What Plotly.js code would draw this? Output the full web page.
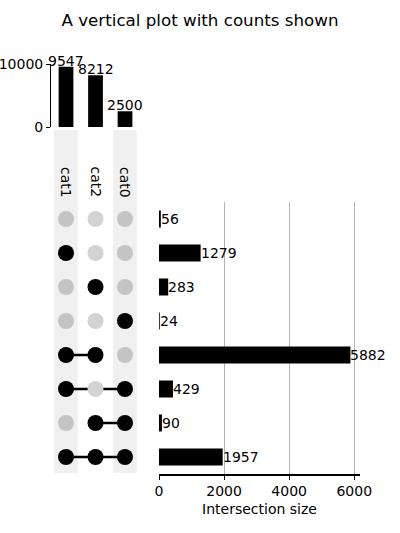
<!DOCTYPE html>
<html>
<head>
<meta charset="utf-8">
<script src="https://cdn.plot.ly/plotly-3.0.1.min.js"></script>
<style>
  html, body { margin: 0; padding: 0; background: #fff; }
  #upset { width: 400px; height: 533px; }
</style>
</head>
<body>
<div id="upset"></div>
<script>
// category totals (top bars)
const categories = ['cat1', 'cat2', 'cat0'];
const totals = [9547, 8212, 2500];

// intersections, top row first
const memberships = [
    [],
    ['cat1'],
    ['cat2'],
    ['cat0'],
    ['cat1', 'cat2'],
    ['cat1', 'cat0'],
    ['cat2', 'cat0'],
    ['cat1', 'cat2', 'cat0']
];
const counts = [56, 1279, 283, 24, 5882, 429, 90, 1957];

const font = "DejaVu Sans, sans-serif";
const H = 533, W = 400;
const py = px => 1 - px / H;   // pixel row -> paper y
const px = p => p / W;         // pixel col -> paper x

const rows = counts.map((c, i) => i);
const colIdx = categories.map((c, i) => i);

// totals bars
const totalsTrace = {
    type: 'bar',
    x: colIdx,
    y: totals,
    xaxis: 'x', yaxis: 'y',
    width: 0.5,
    marker: {color: 'black'},
    hoverinfo: 'skip'
};

// connecting lines in the matrix
const lx = [], ly = [];
memberships.forEach((m, r) => {
    if (m.length < 2) return;
    const idx = m.map(c => categories.indexOf(c));
    lx.push(Math.min(...idx), Math.max(...idx), null);
    ly.push(r, r, null);
});
const linkTrace = {
    type: 'scatter', mode: 'lines',
    x: lx, y: ly,
    xaxis: 'x', yaxis: 'y2',
    line: {color: 'black', width: 2.5},
    hoverinfo: 'skip'
};

// dots
const dx = [], dy = [], dc = [];
memberships.forEach((m, r) => {
    categories.forEach((c, i) => {
        dx.push(i);
        dy.push(r);
        if (m.includes(c)) dc.push('black');
        else dc.push(i % 2 === 0 ? '#c4c4c4' : '#d3d3d3');
    });
});
const dotTrace = {
    type: 'scatter', mode: 'markers',
    x: dx, y: dy,
    xaxis: 'x', yaxis: 'y2',
    marker: {size: 16, color: dc, line: {width: 0}},
    hoverinfo: 'skip'
};

// intersection size bars
const sizeTrace = {
    type: 'bar',
    orientation: 'h',
    x: counts,
    y: rows,
    xaxis: 'x2', yaxis: 'y2',
    width: 0.5,
    marker: {color: 'black'},
    hoverinfo: 'skip'
};

// shading behind alternate columns
const shapes = colIdx.filter(i => i % 2 === 0).map(i => ({
    type: 'rect', layer: 'below',
    xref: 'x', yref: 'paper',
    x0: i - 0.4, x1: i + 0.4,
    y0: py(473), y1: py(130),
    fillcolor: '#f0f0f0', line: {width: 0}
}));

const txt = {family: font, size: 14, color: 'black'};

// category labels, rotated
const annotations = categories.map((c, i) => ({
    xref: 'x', yref: 'paper',
    x: i, y: py(182),
    text: c, textangle: 90,
    showarrow: false,
    font: txt
}));
// count labels
totals.forEach((v, i) => annotations.push({
    xref: 'x', yref: 'y', x: i, y: v,
    text: String(v), showarrow: false,
    xanchor: 'center', yanchor: 'bottom', yshift: -4,
    font: txt
}));
counts.forEach((v, r) => annotations.push({
    xref: 'x2', yref: 'y2', x: v, y: r,
    text: String(v), showarrow: false,
    xanchor: 'left', yanchor: 'middle', xshift: -2,
    font: txt
}));

const layout = {
    width: W, height: H,
    margin: {l: 0, r: 0, t: 0, b: 0},
    paper_bgcolor: 'white',
    plot_bgcolor: 'rgba(0,0,0,0)',
    showlegend: false,
    font: txt,
    title: {
        text: 'A vertical plot with counts shown',
        font: {family: font, size: 16.7, color: 'black'},
        x: 0.5, xanchor: 'center',
        y: py(20), yanchor: 'middle'
    },
    xaxis: {
        domain: [px(51.25), px(139.75)],
        range: [-0.5, 2.5],
        visible: false,
        fixedrange: true
    },
    yaxis: {
        domain: [py(127), py(64)],
        range: [0, 10000],
        anchor: 'free', position: px(50),
        tickvals: [0, 10000],
        ticktext: ['0', '10000'],
        ticks: 'outside', ticklen: 4, tickcolor: 'black',
        showline: true, linecolor: 'black', linewidth: 1,
        showgrid: true, gridcolor: '#d8d8d8',
        zeroline: false,
        tickfont: txt
    },
    yaxis2: {
        domain: [py(474), py(202)],
        range: [7.5, -0.5],
        anchor: 'x2',
        visible: false
    },
    xaxis2: {
        domain: [px(159), px(360)],
        range: [0, 6176],
        anchor: 'y2',
        tickvals: [0, 2000, 4000, 6000],
        ticks: 'outside', ticklen: 4, tickcolor: 'black',
        showline: true, linecolor: 'black', linewidth: 1.5,
        showgrid: true, gridcolor: '#b0b0b0', gridwidth: 1,
        zeroline: false,
        tickfont: txt,
        title: {text: 'Intersection size', font: txt, standoff: 6}
    },
    shapes: shapes,
    annotations: annotations
};

Plotly.newPlot('upset', [totalsTrace, sizeTrace, linkTrace, dotTrace], layout,
    {displayModeBar: false, staticPlot: true});
</script>
</body>
</html>
